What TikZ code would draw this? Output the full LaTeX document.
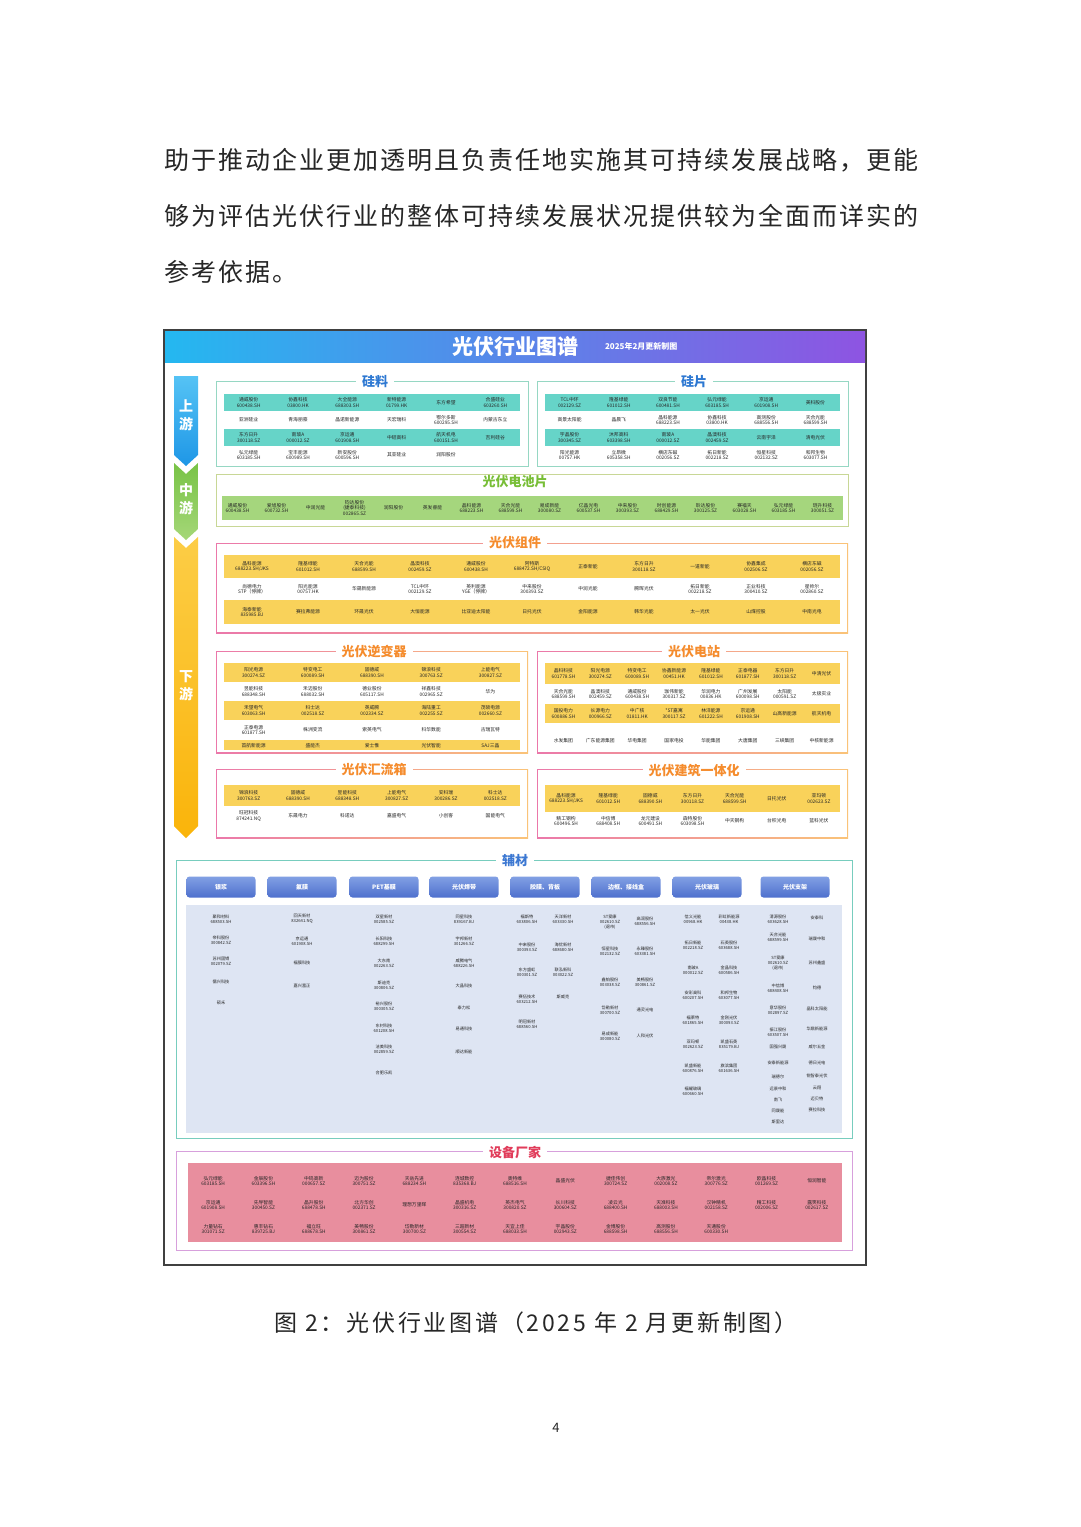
\documentclass[tikz,border=0pt]{standalone}
\usepackage{fontspec}
\setmainfont{Noto Sans CJK SC}
\usetikzlibrary{positioning, calc}
\definecolor{headleft}{RGB}{36,184,240}
\definecolor{headright}{RGB}{142,84,226}
\definecolor{upblue}{RGB}{30,150,230}
\definecolor{upblue2}{RGB}{85,195,245}
\definecolor{midgreen}{RGB}{120,195,70}
\definecolor{midgreen2}{RGB}{165,215,120}
\definecolor{downyellow}{RGB}{250,180,10}
\definecolor{downyellow2}{RGB}{252,205,70}
\definecolor{tealrow}{RGB}{102,212,200}
\definecolor{siledge}{RGB}{150,215,195}
\definecolor{siltitle}{RGB}{45,120,210}
\definecolor{cellgreen}{RGB}{165,214,125}
\definecolor{celledge}{RGB}{200,215,150}
\definecolor{celltitle}{RGB}{120,190,55}
\definecolor{yelrow}{RGB}{249,210,90}
\definecolor{orgtitle}{RGB}{245,140,45}
\definecolor{edgepink}{RGB}{235,120,170}
\definecolor{edgeorange}{RGB}{250,195,120}
\definecolor{auxedge}{RGB}{120,205,190}
\definecolor{auxfill}{RGB}{222,229,243}
\definecolor{auxtitle}{RGB}{60,120,210}
\definecolor{pilltop}{RGB}{130,160,228}
\definecolor{pillbottom}{RGB}{78,112,205}
\definecolor{eqedge}{RGB}{215,160,220}
\definecolor{eqfill}{RGB}{232,142,158}
\definecolor{eqtitle}{RGB}{225,60,90}
\tikzstyle{bodyline} = [anchor=west, inner sep=0pt, text=black!85, font=\fontsize{25}{25}\selectfont\addfontfeatures{LetterSpace=8}]
\tikzstyle{cell} = [align=center, inner sep=0pt, text=black!85, font=\fontsize{4.8}{5.6}\selectfont]
\tikzstyle{auxcell} = [align=center, inner sep=0pt, text=black!85, font=\fontsize{4.2}{5}\selectfont]
\tikzstyle{sectitle} = [fill=white, inner xsep=6pt, inner ysep=1pt, font=\fontsize{13}{13}\selectfont\bfseries]
\tikzstyle{stage} = [text=white, align=center, font=\fontsize{14}{18}\selectfont\bfseries]
\tikzstyle{pill} = [rounded corners=3pt, top color=pilltop, bottom color=pillbottom, minimum width=69pt, minimum height=21pt, text=white, font=\fontsize{6}{6}\selectfont\bfseries]
% one row of a table: name, x left, x right, columns, y, entries
\newcommand{\cellrow}[6]{%
  \foreach \txt [count=\i] in {#6}
    \node[cell] (#1-\i) at ({#2+(\i-0.5)*(#3-#2)/#4},#5) {\txt};}
% box with a pink to orange edge
\newcommand{\gradbox}[4]{%
  \shade[left color=edgepink, right color=edgeorange] (#1,#2) rectangle (#3,#4);
  \fill[white] (#1+1.2,#2+1.2) rectangle (#3-1.2,#4-1.2);}

\begin{document}
\begin{tikzpicture}[x=1pt, y=-1pt]
  \useasboundingbox (0,0) rectangle (1080,1527);
  \fill[white] (0,0) rectangle (1080,1527);

  % text of the page
  \node[bodyline] (line1) at (164,160) {助于推动企业更加透明且负责任地实施其可持续发展战略，更能};
  \node[bodyline] (line2) at (164,216) {够为评估光伏行业的整体可持续发展状况提供较为全面而详实的};
  \node[bodyline] (line3) at (164,272) {参考依据。};

  % frame and header
  \draw[black!75, line width=1.2pt] (164,330) rectangle (866,1265);
  \shade[left color=headleft, right color=headright] (165,331) rectangle (865,362);
  \node[text=white, font=\fontsize{21}{21}\selectfont\bfseries] (maintitle) at (515,346) {光伏行业图谱};
  \node[text=white, font=\fontsize{8}{8}\selectfont\bfseries, right=20pt of maintitle] (update) {2025年2月更新制图};

  % stages
  \shade[top color=upblue2, bottom color=upblue] (174,376) -- (198,376) -- (198,455) -- (186,466) -- (174,455) -- cycle;
  \shade[top color=midgreen, bottom color=midgreen2] (174,463) -- (186,474) -- (198,463) -- (198,529) -- (186,540) -- (174,529) -- cycle;
  \shade[top color=downyellow2, bottom color=downyellow] (174,537) -- (186,548) -- (198,537) -- (198,826) -- (186,838) -- (174,826) -- cycle;
  \node[stage] (up) at (186,415) {上\\游};
  \node[stage] (mid) at (186,499) {中\\游};
  \node[stage] (down) at (186,686) {下\\游};

  % silicon material
  \draw[siledge, line width=1pt] (216,381) rectangle (528,466);
  \fill[tealrow] (224,394) rectangle (520,411);
  \fill[tealrow] (224,429) rectangle (520,446);
  \node[sectitle, text=siltitle] (polysi) at (375,382) {硅料};
  \cellrow{ps1}{224}{520}{6}{402.5}{{通威股份\\600438.SH},{协鑫科技\\03800.HK},{大全能源\\688303.SH},{新特能源\\01799.HK},东方希望,{合盛硅业\\603260.SH}}
  \cellrow{ps2}{224}{520}{6}{420}{亚洲硅业,青海丽豪,晶诺新能源,天宏瑞科,{鄂尔多斯\\600295.SH},内蒙古东立}
  \cellrow{ps3}{224}{520}{6}{437.5}{{东方日升\\300118.SZ},{南玻A\\000012.SZ},{京运通\\601908.SH},中硅高科,{航天机电\\600151.SH},吉利硅谷}
  \cellrow{ps4}{224}{520}{6}{455}{{弘元绿能\\603185.SH},{宝丰能源\\600989.SH},{新安股份\\600596.SH},其亚硅业,润阳股份}

  % wafers
  \draw[siledge, line width=1pt] (537,381) rectangle (848,466);
  \fill[tealrow] (545,394) rectangle (840,411);
  \fill[tealrow] (545,429) rectangle (840,446);
  \node[sectitle, text=siltitle] (wafer) at (694,382) {硅片};
  \cellrow{wf1}{545}{840}{6}{402.5}{{TCL中环\\002129.SZ},{隆基绿能\\601012.SH},{双良节能\\600481.SH},{弘元绿能\\603185.SH},{京运通\\601908.SH},美科股份}
  \cellrow{wf2}{545}{840}{6}{420}{高景太阳能,晶晨飞,{晶科能源\\688223.SH},{协鑫科技\\03800.HK},{高测股份\\688556.SH},{天合光能\\688599.SH}}
  \cellrow{wf3}{545}{840}{6}{437.5}{{宇晶股份\\300345.SZ},{沐邦高科\\603398.SH},{南玻A\\000012.SZ},{晶澳科技\\002459.SZ},云南宇泽,清电光伏}
  \cellrow{wf4}{545}{840}{6}{455}{{阳光能源\\00757.HK},{立昂微\\605358.SH},{横店东磁\\002056.SZ},{拓日新能\\002218.SZ},{恒星科技\\002132.SZ},{和邦生物\\603077.SH}}

  % cells
  \draw[celledge, line width=1pt] (216,474) rectangle (848,526);
  \fill[cellgreen] (222,496) rectangle (843,520);
  \node[sectitle, text=celltitle] (pvcell) at (515,482) {光伏电池片};
  \cellrow{ce}{218}{842}{16}{508}{{通威股份\\600438.SH},{爱旭股份\\600732.SH},中润光能,{钧达股份\\(捷泰科技)\\002865.SZ},润阳股份,英发睿能,{晶科能源\\688223.SH},{天合光能\\688599.SH},{易成新能\\300080.SZ},{亿晶光电\\600537.SH},{中来股份\\300393.SZ},{时创能源\\688429.SH},{聆达股份\\300125.SZ},{赛福天\\603028.SH},{弘元绿能\\603185.SH},{琏升科技\\300051.SZ}}

  % modules
  \gradbox{216}{543}{848}{633}
  \fill[yelrow] (224,555) rectangle (840,578);
  \fill[yelrow] (224,600) rectangle (840,624);
  \node[sectitle, text=orgtitle] (module) at (515,543) {光伏组件};
  \cellrow{md1}{224}{840}{11}{566.5}{{晶科能源\\688223.SH/JKS},{隆基绿能\\601012.SH},{天合光能\\688599.SH},{晶澳科技\\002459.SZ},{通威股份\\600438.SH},{阿特斯\\688472.SH/CSIQ},正泰新能,{东方日升\\300118.SZ},一道新能,{协鑫集成\\002506.SZ},{横店东磁\\002056.SZ}}
  \cellrow{md2}{224}{840}{11}{589}{{尚德电力\\STP（停牌）},{阳光能源\\00757.HK},华晟新能源,{TCL中环\\002129.SZ},{英利能源\\YGE（停牌）},{中来股份\\300393.SZ},中润光能,腾晖光伏,{拓日新能\\002218.SZ},{正业科技\\300410.SZ},{星帅尔\\002860.SZ}}
  \cellrow{md3}{224}{840}{11}{612}{{海泰新能\\835985.BJ},赛拉弗能源,环晟光伏,大恒能源,比亚迪太阳能,日托光伏,金阳能源,韩华光能,太一光伏,山煤控股,中南光电}

  % inverters
  \gradbox{216}{651}{528}{753}
  \fill[yelrow] (224,663) rectangle (520,682);
  \fill[yelrow] (224,701) rectangle (520,720);
  \fill[yelrow] (224,740) rectangle (520,750);
  \node[sectitle, text=orgtitle] (inverter) at (374,652) {光伏逆变器};
  \cellrow{iv1}{224}{520}{5}{672.5}{{阳光电源\\300274.SZ},{特变电工\\600089.SH},{固德威\\688390.SH},{锦浪科技\\300763.SZ},{上能电气\\300827.SZ}}
  \cellrow{iv2}{224}{520}{5}{691.5}{{昱能科技\\688348.SH},{禾迈股份\\688032.SH},{德业股份\\605117.SH},{祥鑫科技\\002965.SZ},华为}
  \cellrow{iv3}{224}{520}{5}{710.5}{{禾望电气\\603063.SH},{科士达\\002518.SZ},{英威腾\\002334.SZ},{海陆重工\\002255.SZ},{茂硕电源\\002660.SZ}}
  \cellrow{iv4}{224}{520}{5}{730}{{正泰电源\\601877.SH},株洲变流,索英电气,科华数能,古瑞瓦特}
  \cellrow{iv5}{224}{520}{5}{745.5}{首航新能源,盛能杰,爱士惟,光伏智能,SAJ三晶}

  % power stations
  \gradbox{537}{651}{848}{753}
  \fill[yelrow] (545,663) rectangle (840,684);
  \fill[yelrow] (545,704) rectangle (840,723);
  \node[sectitle, text=orgtitle] (station) at (694,652) {光伏电站};
  \cellrow{st1}{545}{840}{8}{673.5}{{晶科科技\\601778.SH},{阳光电源\\300274.SZ},{特变电工\\600089.SH},{协鑫新能源\\00451.HK},{隆基绿能\\601012.SH},{正泰电器\\601877.SH},{东方日升\\300118.SZ},中清光伏}
  \cellrow{st2}{545}{840}{8}{694}{{天合光能\\688599.SH},{晶澳科技\\002459.SZ},{通威股份\\600438.SH},{珈伟新能\\300317.SZ},{华润电力\\00836.HK},{广州发展\\600098.SH},{太阳能\\000591.SZ},太极实业}
  \cellrow{st3}{545}{840}{8}{713.5}{{国投电力\\600886.SH},{长源电力\\000966.SZ},{中广核\\01811.HK},{*ST嘉寓\\300117.SZ},{林洋能源\\601222.SH},{京运通\\601908.SH},山高新能源,航天机电}
  \cellrow{st4}{545}{840}{8}{741}{水发集团,广东能源集团,华电集团,国家电投,华能集团,大唐集团,三峡集团,中核新能源}

  % combiner boxes
  \gradbox{216}{769}{528}{838}
  \fill[yelrow] (224,785) rectangle (520,806);
  \node[sectitle, text=orgtitle] (combiner) at (374,770) {光伏汇流箱};
  \cellrow{cb1}{224}{520}{6}{795.5}{{锦浪科技\\300763.SZ},{固德威\\688390.SH},{昱能科技\\688348.SH},{上能电气\\300827.SZ},{安科瑞\\300286.SZ},{科士达\\002518.SZ}}
  \cellrow{cb2}{224}{520}{6}{816}{{旺冠科技\\874241.NQ},东晟电力,科诺达,嘉盛电气,小创客,国能电气}

  % building integrated
  \gradbox{537}{769}{848}{838}
  \fill[yelrow] (545,785) rectangle (840,812);
  \node[sectitle, text=orgtitle] (bipv) at (694,770) {光伏建筑一体化};
  \cellrow{bp1}{545}{840}{7}{798.5}{{晶科能源\\688223.SH/JKS},{隆基绿能\\601012.SH},{固德威\\688390.SH},{东方日升\\300118.SZ},{天合光能\\688599.SH},日托光伏,{亚玛顿\\002623.SZ}}
  \cellrow{bp2}{545}{840}{7}{821}{{精工钢构\\600496.SH},{中信博\\688408.SH},{龙元建设\\600491.SH},{森特股份\\603098.SH},中天钢构,台积光电,蓝科光伏}

  % auxiliary materials
  \draw[auxedge, line width=1pt] (176,860) rectangle (852,1138);
  \fill[auxfill] (186,905) rectangle (842,1133);
  \node[sectitle, text=auxtitle] (aux) at (515,860) {辅材};
  \foreach \txt/\x [count=\i] in {银浆/221, 氟膜/302, PET基膜/384, 光伏焊带/464, {胶膜、背板}/545, {边框、接线盒}/626, 光伏玻璃/707, 光伏支架/795}
    \node[pill] (pill\i) at (\x,887) {\txt};
  \foreach \y/\txt [count=\i] in {919/{聚和材料\\688503.SH}, 940/{帝科股份\\300842.SZ}, 961/{苏州固锝\\002079.SZ}, 982/儒兴科技, 1003/硕禾}
    \node[auxcell] (paste\i) at (221,\y) {\txt};
  \foreach \y/\txt [count=\i] in {919/{回天新材\\832641.NQ}, 941/{京运通\\601908.SH}, 963/福膜科技, 986/嘉兴富正}
    \node[auxcell] (film\i) at (302,\y) {\txt};
  \foreach \y/\txt [count=\i] in {919/{双星新材\\002585.SZ}, 941/{长阳科技\\688299.SH}, 963/{大东南\\002263.SZ}, 985/{斯迪克\\300806.SZ}, 1006/{裕兴股份\\300305.SZ}, 1028/{东材科技\\601208.SH}, 1049/{洁美科技\\002859.SZ}, 1073/合肥乐凯}
    \node[auxcell] (pet\i) at (384,\y) {\txt};
  \foreach \y/\txt [count=\i] in {919/{同星科技\\839167.BJ}, 941/{宇邦新材\\301266.SZ}, 963/{威腾电气\\688226.SH}, 986/大晶科技, 1008/泰力松, 1029/易通科技, 1052/顺达新能}
    \node[auxcell] (ribbon\i) at (464,\y) {\txt};
  \foreach \y/\txt [count=\i] in {919/{福斯特\\603806.SH}, 947/{中来股份\\300393.SZ}, 972/{东方盛虹\\000301.SZ}, 999/{赛伍技术\\603212.SH}, 1024/{明冠新材\\688560.SH}}
    \node[auxcell] (encl\i) at (527,\y) {\txt};
  \foreach \y/\txt [count=\i] in {919/{天洋新材\\603330.SH}, 947/{海优新材\\688680.SH}, 972/{联泓新科\\003022.SZ}, 997/斯威克}
    \node[auxcell] (encr\i) at (563,\y) {\txt};
  \foreach \y/\txt [count=\i] in {922/{ST爱康\\002610.SZ\\(退市)}, 951/{恒星科技\\002132.SZ}, 982/{鑫铂股份\\003038.SZ}, 1010/{岱勒新材\\300700.SZ}, 1036/{易成新能\\300080.SZ}}
    \node[auxcell] (framel\i) at (610,\y) {\txt};
  \foreach \y/\txt [count=\i] in {921/{高润股份\\688556.SH}, 951/{永臻股份\\603381.SH}, 982/{美畅股份\\300861.SZ}, 1010/通灵光电, 1036/人和光伏}
    \node[auxcell] (framer\i) at (645,\y) {\txt};
  \foreach \y/\txt [count=\i] in {919/{信义光能\\00968.HK}, 945/{拓日新能\\002218.SZ}, 970/{南玻A\\000012.SZ}, 995/{安彩高科\\600207.SH}, 1020/{福莱特\\601865.SH}, 1044/{亚玛顿\\002623.SZ}, 1068/{凯盛新能\\600876.SH}, 1091/{福耀玻璃\\600660.SH}}
    \node[auxcell] (glassl\i) at (693,\y) {\txt};
  \foreach \y/\txt [count=\i] in {919/{彩虹新能源\\00438.HK}, 945/{石英股份\\603688.SH}, 970/{金晶科技\\600586.SH}, 995/{和邦生物\\603077.SH}, 1020/{金刚光伏\\300093.SZ}, 1044/{凯盛石英\\835179.BJ}, 1068/{旗滨集团\\601636.SH}}
    \node[auxcell] (glassr\i) at (729,\y) {\txt};
  \foreach \y/\txt [count=\i] in {919/{清源股份\\603628.SH}, 937/{天合光能\\688599.SH}, 963/{ST爱康\\002610.SZ\\(退市)}, 988/{中信博\\688408.SH}, 1010/{意华股份\\002897.SZ}, 1032/{振江股份\\603507.SH}, 1047/国强兴晟, 1063/安泰新能源, 1077/瑞德尔, 1089/远景中和, 1100/南飞, 1111/同晟能, 1122/斯里达}
    \node[auxcell] (mountl\i) at (778,\y) {\txt};
  \foreach \y/\txt [count=\i] in {918/安泰科, 939/瑞晟中和, 963/苏州鑫盛, 988/钧德, 1009/晶科太阳能, 1029/华鼎新能源, 1047/威尔五金, 1063/德日光电, 1076/锐智泰光伏, 1088/云翔, 1099/迈贝特, 1110/赛拉科技}
    \node[auxcell] (mountr\i) at (817,\y) {\txt};

  % equipment
  \draw[eqedge, line width=1pt] (176,1151) rectangle (852,1250);
  \fill[eqfill] (188,1163) rectangle (842,1242);
  \node[sectitle, text=eqtitle] (equip) at (515,1152) {设备厂家};
  \cellrow{eq1}{188}{842}{13}{1181}{{弘元绿能\\603185.SH},{金辰股份\\603396.SH},{中钨高新\\000657.SZ},{迈为股份\\300751.SZ},{天岳先进\\688234.SH},{连城数控\\835368.BJ},{奥特维\\688516.SH},晶盛光伏,{捷佳伟创\\300724.SZ},{大族激光\\002008.SZ},{帝尔激光\\300776.SZ},{欧晶科技\\001269.SZ},恒润智能}
  \cellrow{eq2}{188}{842}{13}{1205}{{京运通\\601908.SH},{先导智能\\300450.SZ},{晶升股份\\688478.SH},{北方华创\\002371.SZ},理想万里晖,{晶盛机电\\300316.SZ},{英杰电气\\300820.SZ},{长川科技\\300604.SZ},{凌云光\\688400.SH},{天准科技\\688003.SH},{汉钟精机\\002158.SZ},{精工科技\\002006.SZ},{露笑科技\\002617.SZ}}
  \cellrow{eq3}{188}{842}{13}{1229}{{力量钻石\\301071.SZ},{惠丰钻石\\839725.BJ},{福立旺\\688678.SH},{美畅股份\\300861.SZ},{岱勒新材\\300700.SZ},{三超新材\\300554.SZ},{天宜上佳\\688033.SH},{宇晶股份\\002943.SZ},{金博股份\\688598.SH},{高测股份\\688556.SH},{天通股份\\600330.SH}}

  % caption and page number
  \node[text=black!85, font=\fontsize{23}{23}\selectfont\addfontfeatures{LetterSpace=12}] (caption) at (536,1323) {图 2：光伏行业图谱（2025 年 2 月更新制图）};
  \node[text=black!85, font=\fontsize{13}{13}\selectfont] (pageno) at (556,1428) {4};
\end{tikzpicture}
\end{document}
